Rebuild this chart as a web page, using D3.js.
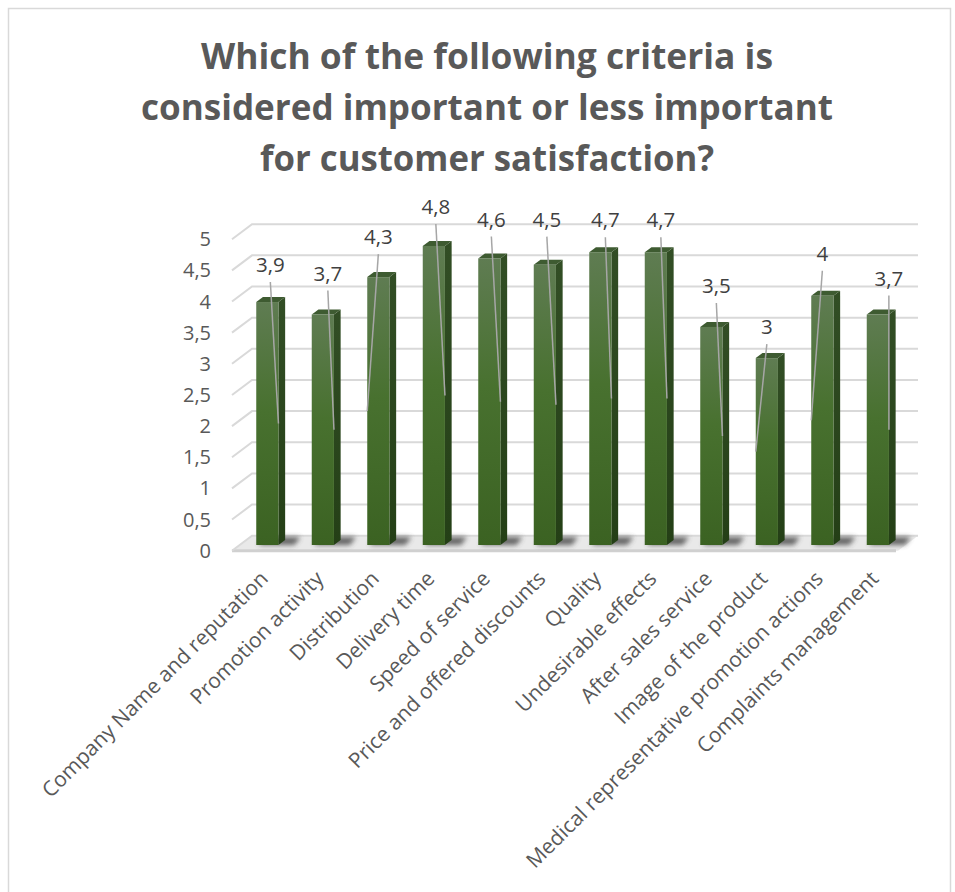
<!DOCTYPE html>
<html>
<head>
<meta charset="utf-8">
<script src="https://cdn.jsdelivr.net/npm/d3@7"></script>
<style>
  body { margin: 0; background: #fff; }
  svg text { font-family: "Open Sans", "Noto Sans", sans-serif; }
</style>
</head>
<body>
<div class="canvas"></div>
<script>
// chart data
const categories = [
  'Company Name and reputation', 'Promotion activity', 'Distribution', 'Delivery time',
  'Speed of service', 'Price and offered discounts', 'Quality', 'Undesirable effects',
  'After sales service', 'Image of the product', 'Medical representative promotion actions',
  'Complaints management'
];
const values = [3.9, 3.7, 4.3, 4.8, 4.6, 4.5, 4.7, 4.7, 3.5, 3.0, 4.0, 3.7];
const yTicks = [0, 0.5, 1, 1.5, 2, 2.5, 3, 3.5, 4, 4.5, 5];
const titleLines = [
  'Which of the following criteria is',
  'considered important or less important',
  'for customer satisfaction?'
];

// manual data label placement (px above bar top / px right of bar centre)
const labelLift = [37, 41, 40, 39, 39, 45, 32, 32, 41, 31, 42, 36];
const labelShift = [3, 5, 0, 2, 2, 2, 5, 5, 5, 0, 0, 11];

const width = 955, height = 892;
const svg = d3.select('.canvas').append('svg')
  .attr('width', width).attr('height', height);

const defs = svg.append('defs');
const grad = defs.append('linearGradient').attr('id', 'frontGrad')
  .attr('x1', 0).attr('y1', 0).attr('x2', 0).attr('y2', 1);
grad.append('stop').attr('offset', '0%').attr('stop-color', '#5f7c52');
grad.append('stop').attr('offset', '45%').attr('stop-color', '#48712f');
grad.append('stop').attr('offset', '100%').attr('stop-color', '#3b6222');
const sideGrad = defs.append('linearGradient').attr('id', 'sideGrad')
  .attr('x1', 0).attr('y1', 0).attr('x2', 0).attr('y2', 1);
sideGrad.append('stop').attr('offset', '0%').attr('stop-color', '#324e25');
sideGrad.append('stop').attr('offset', '100%').attr('stop-color', '#243f16');
defs.append('filter').attr('id', 'blur').attr('x', '-50%').attr('y', '-200%')
  .attr('width', '200%').attr('height', '500%')
  .append('feGaussianBlur').attr('stdDeviation', 2.5);

// outer frame
svg.append('rect').attr('x', 8.5).attr('y', 8.5).attr('width', 942).attr('height', 920)
  .attr('fill', 'none').attr('stroke', '#d9d9d9').attr('stroke-width', 1.5);

// title
const title = svg.append('g').attr('transform', 'translate(487, 0)');
const titleTarget = [572, 692, 454];
titleLines.forEach((t, i) => {
  const tx = title.append('text')
    .attr('x', 0).attr('y', 69 + i * 51)
    .attr('text-anchor', 'middle')
    .attr('font-size', 36).attr('font-weight', 'bold')
    .attr('fill', '#595959')
    .text(t);
  if (tx.node().getComputedTextLength() > titleTarget[i]) {
    tx.attr('textLength', titleTarget[i]).attr('lengthAdjust', 'spacingAndGlyphs');
  }
});

// 3D geometry: back wall plane, depth vector towards the viewer
const wallLeft = 252, wallRight = 918;
const depth = { dx: -20, dy: 15 };
const barFront = 0.62, barBack = 0.285;

const y = d3.scaleLinear().domain([0, 5]).range([535.7, 224.2]);
const x = d3.scaleBand().domain(categories).range([wallLeft, wallRight])
  .paddingInner(0.6).paddingOuter(0.3);

const graph = svg.append('g');

// floor
const y0 = y(0);
graph.append('path')
  .attr('d', `M${wallLeft},${y0} L${wallRight},${y0} L${wallRight + depth.dx},${y0 + depth.dy} L${wallLeft + depth.dx},${y0 + depth.dy} Z`)
  .attr('fill', '#e9e9e9');
graph.append('line')
  .attr('x1', wallLeft + depth.dx).attr('x2', wallRight + depth.dx - 2)
  .attr('y1', y0 + depth.dy).attr('y2', y0 + depth.dy)
  .attr('stroke', '#d0d0d0').attr('stroke-width', 3);

// gridlines on the side + back wall
graph.selectAll('.grid').data(yTicks).enter().append('path')
  .attr('class', 'grid')
  .attr('d', d => `M${wallLeft + depth.dx},${y(d) + depth.dy} L${wallLeft},${y(d)} L${wallRight},${y(d)}`)
  .attr('fill', 'none').attr('stroke', '#d9d9d9').attr('stroke-width', 2);

// y tick labels
graph.selectAll('.ytick').data(yTicks).enter().append('text')
  .attr('class', 'ytick')
  .attr('x', 211).attr('y', d => y(d) + depth.dy)
  .attr('dy', '0.35em')
  .attr('text-anchor', 'end')
  .attr('font-size', 20).attr('fill', '#595959')
  .text(d => String(d).replace('.', ','));

// bars
const bw = x.bandwidth();
const fx = d => x(d) + depth.dx * barFront;           // front face left
const fy = v => y(v) + depth.dy * barFront;           // front face y
const ox = depth.dx * (barBack - barFront);           // offset to back face
const oy = depth.dy * (barBack - barFront);

const bars = graph.selectAll('.bar').data(values.map((v, i) => ({ v, c: categories[i], i })))
  .enter().append('g').attr('class', 'bar');

// floor shadow under each bar
bars.append('path')
  .attr('d', d => {
    const l = fx(d.c), b = fy(0);
    return `M${l + 2},${b} L${l + bw + 16},${b} L${l + bw + 22},${b - 8} L${l + 8},${b - 8} Z`;
  })
  .attr('fill', '#444').attr('opacity', 0.8).attr('filter', 'url(#blur)');

bars.append('path')
  .attr('d', d => {
    const r = fx(d.c) + bw, t = fy(d.v), b = fy(0);
    return `M${r},${t} L${r + ox},${t + oy} L${r + ox},${b + oy} L${r},${b} Z`;
  })
  .attr('fill', 'url(#sideGrad)');

bars.append('path')
  .attr('d', d => {
    const l = fx(d.c), t = fy(d.v);
    return `M${l},${t} L${l + ox},${t + oy} L${l + bw + ox},${t + oy} L${l + bw},${t} Z`;
  })
  .attr('fill', '#3e5b31');

bars.append('rect')
  .attr('x', d => fx(d.c)).attr('y', d => fy(d.v))
  .attr('width', bw).attr('height', d => fy(0) - fy(d.v))
  .attr('fill', 'url(#frontGrad)');

// data labels with leader lines
bars.append('line')
  .attr('x1', d => fx(d.c) + bw / 2 + labelShift[d.i])
  .attr('y1', d => fy(d.v) - labelLift[d.i] + 17)
  .attr('x2', d => labelShift[d.i] > 1 ? fx(d.c) + bw : fx(d.c))
  .attr('y2', d => fy(d.v / 2))
  .attr('stroke', '#a6a6a6').attr('stroke-width', 1.5);

bars.append('text')
  .attr('x', d => fx(d.c) + bw / 2 + labelShift[d.i])
  .attr('y', d => fy(d.v) - labelLift[d.i])
  .attr('dy', '0.35em')
  .attr('text-anchor', 'middle')
  .attr('font-size', 20.5).attr('fill', '#404040')
  .text(d => String(d.v).replace('.', ','));

// category labels, rotated
graph.selectAll('.xlabel').data(categories).enter().append('text')
  .attr('class', 'xlabel')
  .attr('text-anchor', 'end')
  .attr('transform', d => `translate(${fx(d) + bw / 2 + 2}, 580) rotate(-45)`)
  .attr('font-size', 21).attr('fill', '#595959')
  .text(d => d);
</script>
</body>
</html>
